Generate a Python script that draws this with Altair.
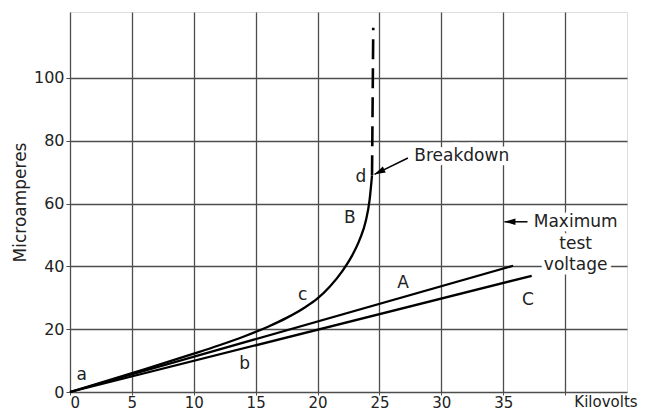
import altair as alt
import pandas as pd

# ---- data ----
kv_A = [0, 35.8]
ua_A = [0, 40.2]

kv_C = [0, 37.3]
ua_C = [0, 37.0]

kv_B = [0, 6, 10, 12, 14, 16, 17.5, 19, 20, 21, 22, 22.8, 23.4, 23.9, 24.2, 24.4]
ua_B = [0, 7.2, 12.2, 14.8, 17.6, 20.8, 23.6, 27.0, 29.8, 33.6, 38.5, 43.5, 48.5, 54.5, 61.0, 69.0]

kv_B_dash = [24.4, 24.5]
ua_B_dash = [69.0, 116.0]

letters = ["a", "b", "c", "B", "d", "A", "C"]
letter_kv = [0.94, 14.1, 18.8, 22.6, 23.5, 26.9, 37.0]
letter_ua = [5.3, 9.0, 30.9, 55.5, 68.6, 34.6, 29.2]

notes = ["Breakdown", "Maximum", "test", "voltage"]
note_kv = [31.65, 40.85, 40.85, 40.85]
note_ua = [75.1, 54.2, 47.1, 40.3]

arrow_tail_kv = [27.3, 36.96]
arrow_tail_ua = [74.5, 54.2]
arrow_head_kv = [24.6, 35.1]
arrow_head_ua = [69.3, 54.2]
arrow_angle = [153.4, 180.0]

x_ticks = [0, 5, 10, 15, 20, 25, 30, 35, 40]
y_ticks = [0, 20, 40, 60, 80, 100]
x_title = "Kilovolts"
y_title = "Microamperes"

FONT = "DejaVu Sans"
FS = 17
X_FS = 15
Y_FS = 16
INK = "#222222"
GRID = "#4d4d4d"

# ---- tables ----
lines = pd.DataFrame(
    [{"curve": "A", "kv": k, "ua": u, "order": i} for i, (k, u) in enumerate(zip(kv_A, ua_A))]
    + [{"curve": "C", "kv": k, "ua": u, "order": i} for i, (k, u) in enumerate(zip(kv_C, ua_C))]
    + [{"curve": "B", "kv": k, "ua": u, "order": i} for i, (k, u) in enumerate(zip(kv_B, ua_B))]
)
dash_df = pd.DataFrame({"kv": kv_B_dash, "ua": ua_B_dash, "order": [0, 1]})
letters_df = pd.DataFrame({"t": letters, "kv": letter_kv, "ua": letter_ua})
notes_df = pd.DataFrame({"t": notes, "kv": note_kv, "ua": note_ua})
arrows_df = pd.DataFrame({
    "kv": arrow_tail_kv, "ua": arrow_tail_ua,
    "kv2": arrow_head_kv, "ua2": arrow_head_ua,
})
heads_df = pd.DataFrame({"kv": arrow_head_kv, "ua": arrow_head_ua, "ang": arrow_angle})
xlab_df = pd.DataFrame({"t": [x_title], "kv": [43.3], "ua": [0]})

W, H = 557, 380

x_axis = alt.Axis(
    values=x_ticks,
    labelExpr="datum.value > 35 ? '' : datum.label",
    title=None,
    grid=True, gridColor=GRID, gridWidth=1.3,
    domain=False, ticks=True, tickSize=3, tickColor=GRID,
    labelPadding=0, labelFont=FONT, labelFontSize=X_FS, labelColor=INK,
)
y_axis = alt.Axis(
    values=y_ticks,
    title=y_title,
    grid=True, gridColor=GRID, gridWidth=1.3,
    domain=False, ticks=True, tickSize=4, tickColor=GRID,
    labelPadding=2, labelFont=FONT, labelFontSize=Y_FS, labelColor=INK,
    titleFont=FONT, titleFontSize=FS, titleFontWeight="normal", titleColor=INK,
    titleAngle=270, titleX=-50, titleY=H / 2, titleBaseline="middle", titleAlign="center",
)
xs = alt.Scale(domain=[0, 45], nice=False)
ys = alt.Scale(domain=[0, 121], nice=False)


def X(field="kv"):
    return alt.X(f"{field}:Q", scale=xs, axis=x_axis)


def Y(field="ua"):
    return alt.Y(f"{field}:Q", scale=ys, axis=y_axis)


halo = alt.Chart(notes_df).mark_text(
    font=FONT, fontSize=FS, color="white", stroke="white", strokeWidth=9,
    strokeJoin="round", align="center", baseline="middle",
).encode(x=X(), y=Y(), text="t:N")

curves = alt.Chart(lines).mark_line(
    color="black", strokeWidth=2.3, interpolate="monotone"
).encode(x=X(), y=Y(), detail="curve:N", order="order:Q")

dashed = alt.Chart(dash_df).mark_line(
    color="black", strokeWidth=2.6, strokeDash=[20, 9]
).encode(x=X(), y=Y(), order="order:Q")

shafts = alt.Chart(arrows_df).mark_rule(color="black", strokeWidth=1.5).encode(
    x=X(), y=Y(), x2="kv2:Q", y2="ua2:Q"
)

heads = alt.Chart(heads_df).mark_point(
    shape="M0,0 L-2,-0.6 L-2,0.6 Z", size=120, filled=True, color="black", opacity=1
).encode(x=X(), y=Y(), angle=alt.Angle("ang:Q", scale=None))

letter_text = alt.Chart(letters_df).mark_text(
    font=FONT, fontSize=FS, color=INK, align="center", baseline="middle"
).encode(x=X(), y=Y(), text="t:N")

note_text = alt.Chart(notes_df).mark_text(
    font=FONT, fontSize=FS, color=INK, align="center", baseline="middle"
).encode(x=X(), y=Y(), text="t:N")

xlab = alt.Chart(xlab_df).mark_text(
    font=FONT, fontSize=X_FS, color=INK, align="center", baseline="top", dy=3
).encode(x=X(), y=Y(), text="t:N")

chart = alt.layer(
    halo, curves, dashed, shafts, heads, letter_text, note_text, xlab
).properties(
    width=W, height=H,
    autosize=alt.AutoSizeParams(type="none"),
    padding={"left": 62, "top": 4, "right": 11, "bottom": 19},
).configure_view(
    stroke="#2a2a2a", strokeWidth=2
).configure(background="white")

chart.save("out.html", embed_options={"renderer": "svg", "actions": False})
